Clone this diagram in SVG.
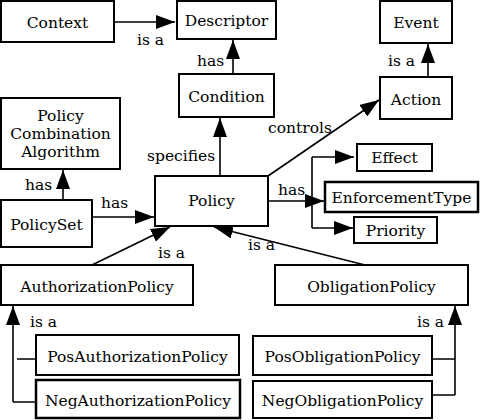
<svg xmlns="http://www.w3.org/2000/svg" width="480" height="420" viewBox="0 0 480 420">
<defs>
<style>
.box{fill:#fff;stroke:#000;stroke-width:2}
.thick{stroke-width:2.5}
text{font-family:'DejaVu Serif',serif;font-size:15.5px;fill:#000}
.t{text-anchor:middle}
.c{fill:none;stroke:#000;stroke-width:1.6}
</style>
<marker id="ah" markerUnits="userSpaceOnUse" markerWidth="20" markerHeight="14" refX="19" refY="7" orient="auto">
<path d="M0,0 L19,7 L0,14 z" fill="#000"/>
</marker>
</defs>
<rect width="480" height="420" fill="#fff"/>
<g id="connectors">
<path class="c" d="M114,22 L175,22" marker-end="url(#ah)"/>
<path class="c" d="M233,74 L233,40" marker-end="url(#ah)"/>
<path class="c" d="M428,77 L428,44" marker-end="url(#ah)"/>
<path class="c" d="M220,176 L220,118" marker-end="url(#ah)"/>
<path class="c" d="M268,176 L379,100" marker-end="url(#ah)"/>
<path class="c" d="M63,200 L63,170" marker-end="url(#ah)"/>
<path class="c" d="M92,217 L154,217" marker-end="url(#ah)"/>
<path class="c" d="M268,201 L312,201 M312,157 L312,228"/>
<path class="c" d="M312,157 L354,157" marker-end="url(#ah)"/>
<path class="c" d="M312,201 L324,201" marker-end="url(#ah)"/>
<path class="c" d="M312,228 L353,228" marker-end="url(#ah)"/>
<path class="c" d="M92,265 L170,227" marker-end="url(#ah)"/>
<path class="c" d="M365,265 L214,227" marker-end="url(#ah)"/>
<path class="c" d="M13,402 L13,306" marker-end="url(#ah)"/>
<path class="c" d="M13,402 L36,402 M17,359 L36,359"/>
<path class="c" d="M455,395 L455,306" marker-end="url(#ah)"/>
<path class="c" d="M432,359 L455,359 M432,395 L455,395"/>
</g>
<g id="labels">
<text x="137" y="45">is a</text>
<text x="197" y="66">has</text>
<text x="388" y="66">is a</text>
<text x="268" y="133">controls</text>
<text x="147" y="161">specifies</text>
<text x="25" y="190">has</text>
<text x="101" y="208">has</text>
<text x="278" y="195">has</text>
<text x="158" y="258">is a</text>
<text x="248" y="250">is a</text>
<text x="30" y="327">is a</text>
<text x="417" y="327">is a</text>
</g>
<g id="context"><rect class="box" x="1" y="1" width="113" height="41"/><text class="t" x="57.5" y="28">Context</text></g>
<g id="descriptor"><rect class="box" x="177" y="1" width="99" height="38"/><text class="t" x="226.5" y="26">Descriptor</text></g>
<g id="event"><rect class="box" x="380" y="1" width="72" height="42"/><text class="t" x="416" y="28">Event</text></g>
<g id="condition"><rect class="box" x="179" y="74" width="95" height="43"/><text class="t" x="226.5" y="102">Condition</text></g>
<g id="action"><rect class="box" x="380" y="77" width="72" height="42"/><text class="t" x="416" y="105">Action</text></g>
<g id="pca"><rect class="box" x="1" y="98" width="119" height="71"/><text class="t" x="60.5" y="121">Policy</text><text class="t" x="60.5" y="139">Combination</text><text class="t" x="60.5" y="157">Algorithm</text></g>
<g id="policyset"><rect class="box" x="1" y="200" width="91" height="47"/><text class="t" x="46.5" y="230">PolicySet</text></g>
<g id="policy"><rect class="box" x="155" y="176" width="113" height="50"/><text class="t" x="211.5" y="206">Policy</text></g>
<g id="effect"><rect class="box" x="357" y="144" width="75" height="27"/><text class="t" x="394.5" y="163">Effect</text></g>
<g id="enforcementtype"><rect class="box thick" x="325" y="182" width="153" height="30"/><text class="t" x="401.5" y="203">EnforcementType</text></g>
<g id="priority"><rect class="box" x="354" y="217" width="83" height="26"/><text class="t" x="395.5" y="236">Priority</text></g>
<g id="authorizationpolicy"><rect class="box" x="1" y="265" width="192" height="40"/><text class="t" x="97" y="292">AuthorizationPolicy</text></g>
<g id="obligationpolicy"><rect class="box" x="275" y="265" width="193" height="40"/><text class="t" x="371.5" y="292">ObligationPolicy</text></g>
<g id="posauthorizationpolicy"><rect class="box" x="36" y="335" width="203" height="40"/><text class="t" x="137.5" y="362">PosAuthorizationPolicy</text></g>
<g id="negauthorizationpolicy"><rect class="box thick" x="36" y="380" width="204" height="38"/><text class="t" x="138" y="406">NegAuthorizationPolicy</text></g>
<g id="posobligationpolicy"><rect class="box" x="253" y="336" width="179" height="39"/><text class="t" x="342.5" y="362">PosObligationPolicy</text></g>
<g id="negobligationpolicy"><rect class="box" x="253" y="381" width="179" height="37"/><text class="t" x="342.5" y="406">NegObligationPolicy</text></g>
</svg>
